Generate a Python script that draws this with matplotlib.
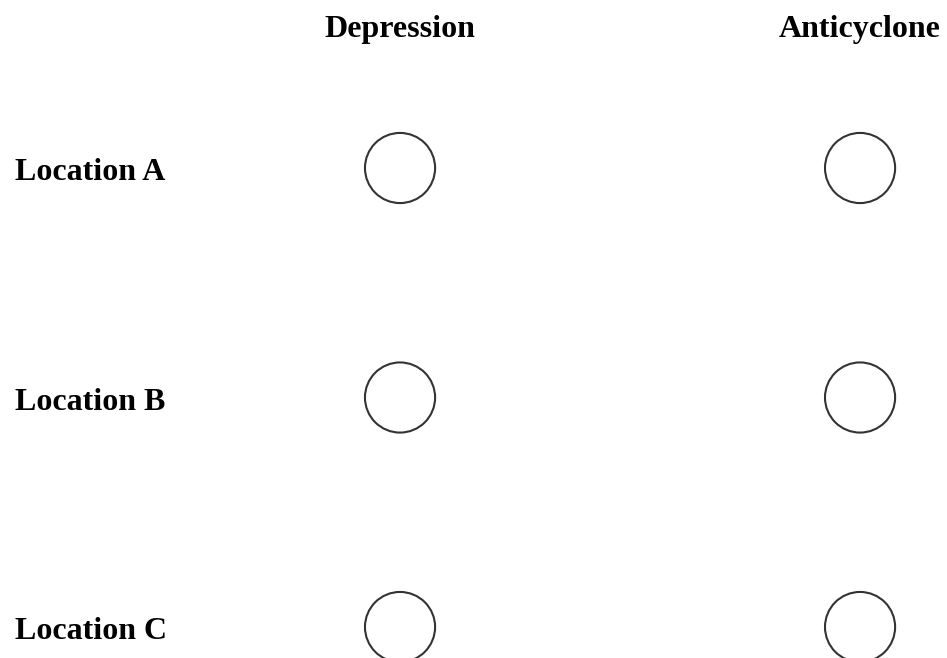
import matplotlib.pyplot as plt
import matplotlib.transforms as mtransforms

# categories
columns = ['Depression', 'Anticyclone']
rows = ['Location A', 'Location B', 'Location C']

plt.rcParams['font.family'] = ['Liberation Serif', 'DejaVu Serif']

fig = plt.figure(figsize=(9.47, 6.58), dpi=100)
ax = fig.add_axes([0, 0, 1, 1])
ax.set_xlim(-0.8696, 1.189)
ax.set_ylim(2.135, -0.732)
ax.axis('off')

# empty answer circles, one per cell
xs = [i for j in range(len(rows)) for i in range(len(columns))]
ys = [j for j in range(len(rows)) for i in range(len(columns))]
ax.scatter(xs, ys, s=2550, facecolors='none', edgecolors='#333333', linewidths=1.5)

# column headers
for i, name in enumerate(columns):
    ax.text(i, -0.571, name, ha='center', va='baseline',
            fontsize=23, fontweight='bold', color='black')

# row labels, baseline a little below the circle centre
trans = mtransforms.offset_copy(ax.transData, fig=fig, x=0, y=-12, units='dots')
for j, name in enumerate(rows):
    ax.text(-0.837, j, name, ha='left', va='baseline', transform=trans,
            fontsize=23, fontweight='bold', color='black')

fig.savefig('out.png', dpi=100, facecolor='white')
